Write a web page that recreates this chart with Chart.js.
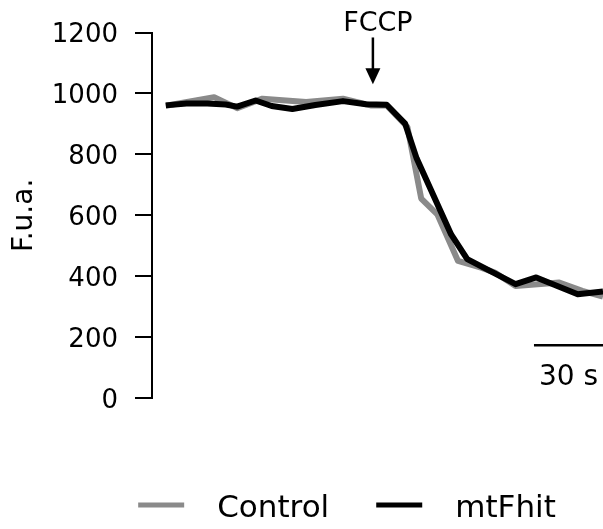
<!DOCTYPE html>
<html>
<head>
<meta charset="utf-8">
<script src="https://cdn.jsdelivr.net/npm/chart.js@4.4.0/dist/chart.umd.min.js"></script>
<style>
  html, body { margin: 0; padding: 0; background: #fff; }
  canvas { display: block; }
</style>
</head>
<body>
<canvas id="myChart" width="603" height="529"></canvas>
<script>
// time (s) and fluorescence readings
const controlTime = [0, 21, 31, 42, 61, 77, 89, 96, 105, 111, 118, 127, 137, 143, 152, 163, 171, 181, 190];
const controlValues = [960, 988, 952, 983, 972, 983, 961, 961, 890, 655, 603, 450, 428, 412, 368, 374, 379, 352, 333];

const mtfhitTime = [0, 9, 18, 26, 31, 39, 46, 55, 65, 77, 87, 96, 104, 109, 124, 131, 152, 161, 179, 190];
const mtfhitValues = [961, 967, 967, 964, 957, 977, 959, 949, 962, 975, 965, 963, 901, 787, 537, 456, 374, 396, 341, 350];

const yTicks = [0, 200, 400, 600, 800, 1000, 1200];

const fccpTime = 90;
const scaleBarSeconds = 30;

Chart.defaults.font.family = "'DejaVu Sans', sans-serif";
Chart.defaults.color = "#000";

// FCCP arrow, 30 s scale bar and the legend
const extras = {
  id: "extras",
  afterDraw(chart) {
    const { ctx } = chart;
    const x = chart.scales.x;
    const y = chart.scales.y;
    ctx.save();
    ctx.fillStyle = "#000";
    ctx.strokeStyle = "#000";

    // FCCP
    const ax = x.getPixelForValue(fccpTime);
    const tail = y.getPixelForValue(1184);
    const tip = y.getPixelForValue(1030);
    ctx.lineWidth = 2.5;
    ctx.beginPath();
    ctx.moveTo(ax, tail);
    ctx.lineTo(ax, tip - 12);
    ctx.stroke();
    ctx.beginPath();
    ctx.moveTo(ax - 7.5, tip - 16);
    ctx.lineTo(ax + 7.5, tip - 16);
    ctx.lineTo(ax, tip);
    ctx.closePath();
    ctx.fill();
    ctx.font = "27px 'DejaVu Sans'";
    ctx.textAlign = "center";
    ctx.textBaseline = "alphabetic";
    ctx.fillText("FCCP", ax + 5, tail - 6);

    // scale bar
    const x0 = x.getPixelForValue(x.max - scaleBarSeconds);
    const x1 = x.getPixelForValue(x.max);
    const by = y.getPixelForValue(173);
    ctx.lineWidth = 2.5;
    ctx.beginPath();
    ctx.moveTo(x0, by);
    ctx.lineTo(x1, by);
    ctx.stroke();
    ctx.font = "28px 'DejaVu Sans'";
    ctx.fillText(scaleBarSeconds + " s", (x0 + x1) / 2, y.getPixelForValue(42));

    // legend
    ctx.font = "31px 'DejaVu Sans'";
    ctx.textAlign = "left";
    const sets = chart.data.datasets;
    const lineW = 46, gapText = 33, gapItem = 47;
    let total = 0;
    sets.forEach((ds, i) => {
      total += lineW + gapText + ctx.measureText(ds.label).width;
      if (i < sets.length - 1) total += gapItem;
    });
    let lx = 347 - total / 2;
    sets.forEach((ds) => {
      ctx.strokeStyle = ds.borderColor;
      ctx.lineWidth = 5;
      ctx.beginPath();
      ctx.moveTo(lx, 505);
      ctx.lineTo(lx + lineW, 505);
      ctx.stroke();
      ctx.fillStyle = "#000";
      ctx.fillText(ds.label, lx + lineW + gapText, 517);
      lx += lineW + gapText + ctx.measureText(ds.label).width + gapItem;
    });
    ctx.restore();
  },
};

const data = {
  datasets: [
    {
      label: "Control",
      data: controlTime.map((t, i) => ({ x: t, y: controlValues[i] })),
      borderColor: "#8a8a8a",
      backgroundColor: "#8a8a8a",
      borderWidth: 6,
      borderJoinStyle: "round",
      pointRadius: 0,
      tension: 0,
      order: 2,
    },
    {
      label: "mtFhit",
      data: mtfhitTime.map((t, i) => ({ x: t, y: mtfhitValues[i] })),
      borderColor: "#000",
      backgroundColor: "#000",
      borderWidth: 6,
      borderJoinStyle: "round",
      pointRadius: 0,
      tension: 0,
      order: 1,
    },
  ],
};

const config = {
  type: "line",
  data: data,
  options: {
    responsive: false,
    animation: false,
    devicePixelRatio: 1,
    layout: {
      padding: { top: 30, bottom: 131, left: 0, right: 0 },
    },
    scales: {
      x: {
        type: "linear",
        min: -6,
        max: 190,
        display: false,
      },
      y: {
        min: 0,
        max: 1200,
        afterFit(scale) {
          scale.width = 152;
        },
        afterBuildTicks(scale) {
          scale.ticks = yTicks.map((v) => ({ value: v }));
        },
        grid: {
          drawOnChartArea: false,
          drawTicks: true,
          tickLength: 17,
          color: "#000",
          lineWidth: 2,
        },
        border: {
          color: "#000",
          width: 2,
        },
        ticks: {
          color: "#000",
          font: { size: 26 },
          padding: 17,
          labelOffset: 3,
          callback: (value) => String(value),
        },
        title: {
          display: true,
          text: "F.u.a.",
          color: "#000",
          font: { size: 28 },
          padding: { top: 8, bottom: 0 },
        },
      },
    },
    plugins: {
      legend: { display: false },
      tooltip: { enabled: false },
    },
  },
  plugins: [extras],
};

const myChart = new Chart(document.getElementById("myChart"), config);
</script>
</body>
</html>
